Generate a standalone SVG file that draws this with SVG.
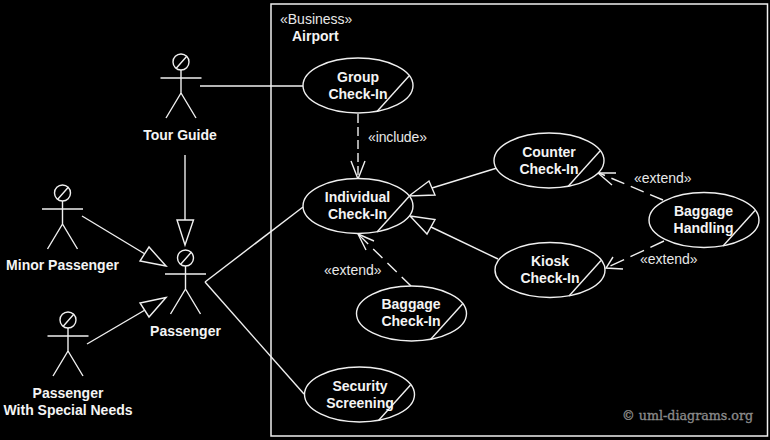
<svg xmlns="http://www.w3.org/2000/svg" width="770" height="440" viewBox="0 0 770 440">
<style>
.s{fill:none;stroke:#f0f0f0;stroke-width:1.4}
.e{fill:#000;stroke:#f0f0f0;stroke-width:1.4}
.d{fill:none;stroke:#f0f0f0;stroke-width:1.4}
.t{fill:#000;stroke:#f0f0f0;stroke-width:1.4;stroke-linejoin:miter}
.b{font-family:"Liberation Sans",Arial,sans-serif;font-size:14px;font-weight:bold;fill:#f4f4f4;text-anchor:middle}
.r{font-family:"Liberation Sans",Arial,sans-serif;font-size:14px;fill:#e8e8e8}
.w{font-family:"DejaVu Serif",serif;font-size:12.700px;fill:#8a8a8a;stroke:#8a8a8a;stroke-width:.35}
</style>
<defs>
<g id="actor" class="s"><circle cx="0" cy="0" r="8"/><path d="M-5 6.500L6 -6M0 8V31M-20.500 16H20.500M0 31L-15 56M0 31L15 56"/></g>
<g id="uc"><ellipse class="e" cx="0" cy="0" rx="55" ry="27.500"/><path class="s" d="M51 -9.500L19 26"/></g>
</defs>
<rect width="770" height="440" fill="#000"/>
<rect id="boundary" x="271" y="4" width="496.500" height="432" fill="none" stroke="#f0f0f0" stroke-width="1.500"/>
<text class="r" x="280" y="24">«Business»</text>
<text class="b" x="292" y="41" style="text-anchor:start">Airport</text>
<g id="connectors">
<path class="s" d="M200 86H303"/>
<path class="s" d="M185 155V220"/>
<path class="t" d="M177 220H193.500L185 245Z"/>
<path class="s" d="M82 216L145 254"/>
<path class="t" d="M166 266L140 261L149 247Z"/>
<path class="s" d="M87 344L145 310"/>
<path class="t" d="M166 297.500L140 303L149 317Z"/>
<path class="s" d="M205 282L303 207"/>
<path class="s" d="M205 282L304 394"/>
<path class="d" stroke-dasharray="9 4" d="M358 114V179"/>
<path class="s" d="M351 161L358 179L365 161"/>
<path class="s" d="M432 188L497 168"/>
<path class="t" d="M409 196L429 181L435 195Z"/>
<path class="s" d="M431 227L498 259"/>
<path class="t" d="M410 216L435 219.500L427 234Z"/>
<path class="d" stroke-dasharray="14 7" d="M663 200L599 173"/>
<path class="s" d="M616 173L598 173L612 185"/>
<path class="d" stroke-dasharray="15 7" d="M664 241L606 268"/>
<path class="s" d="M613 257L606 268L623 269"/>
<path class="d" stroke-dasharray="13 7" d="M411 286L358 234"/>
<path class="s" d="M374 241L358 234L366 250"/>
</g>
<g id="tour-guide"><use href="#actor" x="181" y="62"/><text class="b" x="180" y="140">Tour Guide</text></g>
<g id="minor-passenger"><use href="#actor" x="62.500" y="193"/><text class="b" x="62.500" y="270">Minor Passenger</text></g>
<g id="passenger"><use href="#actor" x="185.500" y="258"/><text class="b" x="185.500" y="336">Passenger</text></g>
<g id="special-needs"><use href="#actor" x="68" y="320"/><text class="b" x="68" y="398">Passenger</text><text class="b" x="68" y="415">With Special Needs</text></g>
<g id="group-checkin"><use href="#uc" x="358" y="85.500"/><text class="b" x="358" y="82">Group</text><text class="b" x="358" y="99">Check-In</text></g>
<g id="individual-checkin"><use href="#uc" x="358" y="206"/><text class="b" x="357.500" y="202">Individual</text><text class="b" x="357.500" y="219">Check-In</text></g>
<g id="counter-checkin"><use href="#uc" x="549" y="160.500"/><text class="b" x="549" y="157">Counter</text><text class="b" x="549" y="174">Check-In</text></g>
<g id="kiosk-checkin"><use href="#uc" x="550" y="270"/><text class="b" x="550" y="266">Kiosk</text><text class="b" x="550" y="283">Check-In</text></g>
<g id="baggage-handling"><use href="#uc" x="704" y="220"/><text class="b" x="703.500" y="216">Baggage</text><text class="b" x="703.500" y="233">Handling</text></g>
<g id="baggage-checkin"><use href="#uc" x="411.500" y="313.500"/><text class="b" x="411" y="309">Baggage</text><text class="b" x="411" y="326">Check-In</text></g>
<g id="security-screening"><use href="#uc" x="359.500" y="394.500"/><text class="b" x="360" y="391">Security</text><text class="b" x="360" y="408">Screening</text></g>
<text class="r" x="368" y="142" textLength="59">«include»</text>
<text class="r" x="634" y="183">«extend»</text>
<text class="r" x="640" y="264">«extend»</text>
<text class="r" x="324" y="275">«extend»</text>
<text class="w" x="622" y="420">© uml-diagrams.org</text>
</svg>
